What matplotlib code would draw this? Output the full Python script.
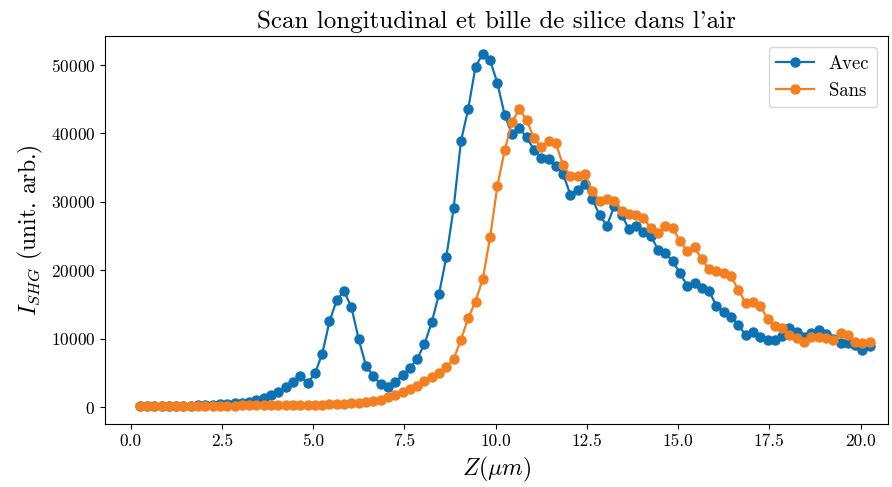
import numpy as np
import matplotlib
matplotlib.use("Agg")
import matplotlib.pyplot as plt

plt.rcParams['font.family'] = 'serif'
plt.rcParams['font.serif'] = ['cmr10']
plt.rcParams['mathtext.fontset'] = 'cm'
plt.rcParams['axes.formatter.use_mathtext'] = True

# Z positions (um), one point every 0.2 um
z = np.round(np.arange(101) * 0.2 + 0.25, 2)

# SHG intensity with the silica bead
avec = [100, 110, 120, 130, 150, 170, 200, 220, 250, 290, 340, 400, 470, 560, 660, 800, 1000,
        1300, 1750, 2150, 2870, 3700, 4500, 3500, 4900,
        7750, 12500, 15650, 16900, 14600, 9900, 6000, 4570, 3300,
        2870, 3700, 4670, 5690, 7000, 9200, 12350, 16500, 21900, 29000,
        38800, 43500, 49700, 51600, 50600, 47300, 42600, 39800, 40700, 39400,
        37600, 36400, 36200, 35200, 34000, 31000, 31700, 32600, 30400, 28000,
        26500, 29300, 28100, 26000, 26500, 25600, 25000, 23000, 22450, 21300,
        19600, 17700, 18100, 17450, 16900, 14800, 13950, 13200, 12000, 10500,
        11000, 10300, 9800, 9800, 10400, 11500, 10900, 10300, 10800, 11300,
        10600, 10000, 9400, 9300, 9100, 8350, 8850]

# SHG intensity without the bead
sans = [150, 150, 160, 160, 170, 170, 180, 180, 190, 190, 200, 200, 210, 220, 230, 240,
        250, 260, 270, 280, 290, 290,
        300, 320, 340, 370, 400, 440, 490, 550, 620, 700, 820, 1000,
        1400, 1750, 2140, 2620, 3110, 3840, 4420, 4960, 5850, 7000,
        9800, 13000, 15400, 18700, 24800, 32300, 37500, 41600, 43500, 41900,
        39300, 37900, 38800, 38500, 35300, 33700, 33700, 34000, 31500, 30150,
        30400, 30100, 28600, 28200, 28000, 27650, 26100, 25400, 26500, 26100,
        24250, 22800, 23300, 21600, 20100, 19900, 19600, 19100, 17100, 15200,
        15400, 14800, 12900, 11900, 11600, 10500, 10100, 9500, 10300, 10300,
        10100, 9800, 10800, 10500, 9500, 9400, 9500]

fig = plt.figure(figsize=(8.92, 4.87), dpi=100)
ax = fig.add_axes([105 / 892, 1 - 424 / 487, 783 / 892, 388 / 487])

ax.plot(z, avec, '-o', color='#0C72B3', ms=6.5, lw=1.6, label='Avec')
ax.plot(z, sans, '-o', color='#F47F20', ms=6.5, lw=1.6, label='Sans')

ax.set_xlim(-0.7, 20.75)
ax.set_xticks([0, 2.5, 5, 7.5, 10, 12.5, 15, 17.5, 20])
ax.set_xticklabels(['0.0', '2.5', '5.0', '7.5', '10.0', '12.5', '15.0', '17.5', '20.0'])
ax.tick_params(labelsize=12.5)

ax.set_title("Scan longitudinal et bille de silice dans l'air", fontsize=18)
ax.set_xlabel(r'$Z (\mu m)$', fontsize=17)
ax.set_ylabel(r'$I_{SHG}$ (unit. arb.)', fontsize=17)
ax.legend(loc='upper right', fontsize=13.5, borderaxespad=0.6)

fig.savefig('out.png', dpi=100)
